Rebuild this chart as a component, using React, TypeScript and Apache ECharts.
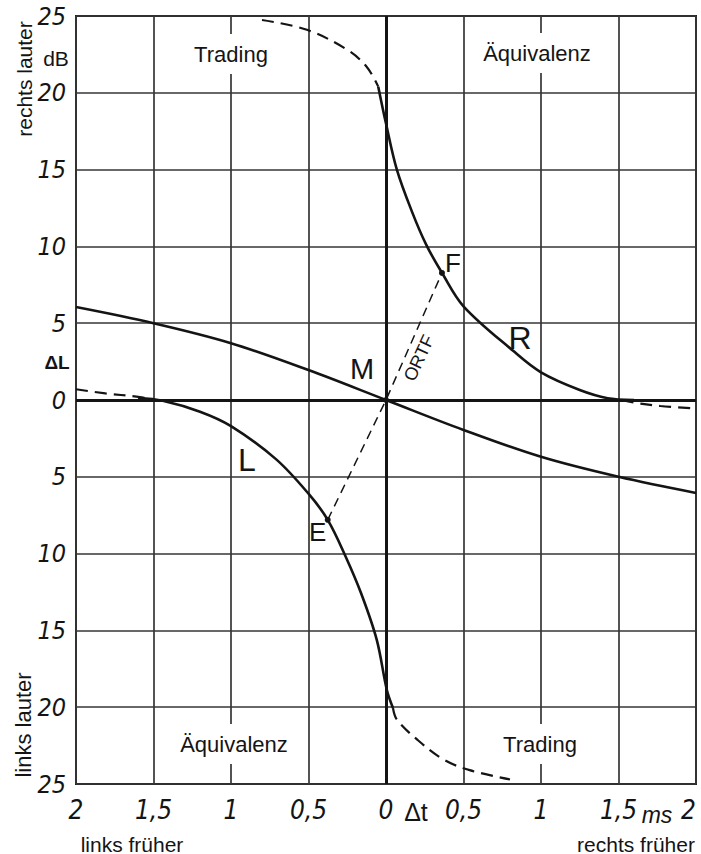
import React, { useEffect, useRef } from "react";
import * as echarts from "echarts";

// Axis ticks (ms, dB)
const xTicks = [-2, -1.5, -1, -0.5, 0, 0.5, 1, 1.5, 2];
const yTicks = [-25, -20, -15, -10, -5, 0, 5, 10, 15, 20, 25];

// Curve M (middle)
const mCurve = [
  [-2, 6.05], [-1.5, 5.0], [-1, 3.7], [-0.5, 1.95], [0, 0],
  [0.5, -1.95], [1, -3.7], [1.5, -5.0], [2, -6.05],
];

// Curve R
const rSolid = [
  [-0.05, 20.4], [0, 18.0], [0.07, 15.0], [0.17, 12.2], [0.26, 10.1],
  [0.36, 8.3], [0.5, 6.1], [0.82, 3.2], [1.0, 1.8], [1.25, 0.65],
  [1.43, 0.12], [1.6, 0],
];
const rDashTop = [
  [-0.8, 24.74], [-0.51, 24.1], [-0.25, 22.8], [-0.125, 21.7], [-0.05, 20.4],
];
const rDashRight = [[1.52, 0], [1.6, -0.17], [1.77, -0.39], [1.98, -0.54]];

// Curve L
const lDashLeft = [[-2, 0.7], [-1.81, 0.43], [-1.61, 0.22], [-1.52, 0.08]];
const lSolid = [
  [-1.6, 0.15], [-1.44, -0.05], [-1.2, -0.76], [-1.0, -1.7], [-0.71, -3.85],
  [-0.5, -6.1], [-0.376, -7.8], [-0.26, -10.2], [-0.16, -12.6], [-0.06, -15.6],
  [0.006, -18.9], [0.045, -20.05],
];
const lDashBottom = [
  [0.045, -20.05], [0.07, -20.8], [0.2, -22.1], [0.37, -23.4], [0.54, -24.1],
  [0.8, -24.7],
];

// ORTF connection E - M - F
const ortfNames = ["E", "M", "F"];
const ortfPoints = [[-0.376, -7.8], [0, 0], [0.361, 8.27]];

const INK = "#141414";
const GRID = "#363636";
const NUM_FONT = "'Liberation Sans Narrow', 'DejaVu Sans Condensed', 'Liberation Sans', sans-serif";
const SANS = "'Liberation Sans', Arial, sans-serif";

const fmtNum = (v: number) => String(Math.abs(v)).replace(".", ",");

export default function App() {
  const ref = useRef<HTMLDivElement>(null);

  useEffect(() => {
    document.body.style.margin = "0";
    if (!ref.current) return;
    const chart = echarts.init(ref.current, undefined, { renderer: "svg" });

    const curveBase = {
      type: "line",
      showSymbol: false,
      symbol: "none",
      smooth: 0.35,
      silent: true,
      z: 5,
    };
    const solid = { color: INK, width: 2.6 };
    const dashed = { color: INK, width: 2.2, type: [12, 7] };

    const labelOffsets: Record<string, number[]> = {
      E: [-10, 12],
      M: [-24, -31],
      F: [11, -10],
    };
    const labelSizes: Record<string, number> = { E: 26, M: 29, F: 26 };

    const option: any = {
      animation: false,
      backgroundColor: "#fff",
      grid: {
        left: 76,
        right: 5,
        top: 16,
        bottom: 70,
        show: true,
        borderColor: "#222",
        borderWidth: 2,
        containLabel: false,
      },
      xAxis: {
        type: "value",
        min: xTicks[0],
        max: xTicks[xTicks.length - 1],
        interval: 0.5,
        axisLine: { show: false },
        axisTick: { show: false },
        splitLine: { show: true, lineStyle: { color: GRID, width: 1.7 } },
        axisLabel: {
          formatter: (v: number) => fmtNum(v),
          fontSize: 26,
          fontFamily: NUM_FONT,
          fontStyle: "italic",
          color: INK,
          margin: 13,
          alignMaxLabel: "right",
        },
      },
      yAxis: {
        type: "value",
        min: yTicks[0],
        max: yTicks[yTicks.length - 1],
        interval: 5,
        axisLine: { show: false },
        axisTick: { show: false },
        splitLine: { show: true, lineStyle: { color: GRID, width: 1.7 } },
        axisLabel: {
          formatter: (v: number) => fmtNum(v),
          fontSize: 25,
          fontFamily: NUM_FONT,
          fontStyle: "italic",
          color: INK,
          margin: 10,
        },
      },
      series: [
        {
          type: "line",
          data: [],
          silent: true,
          markLine: {
            silent: true,
            symbol: "none",
            label: { show: false },
            lineStyle: { color: INK, width: 3, type: "solid" },
            data: [{ xAxis: 0 }, { yAxis: 0 }],
          },
        },
        { ...curveBase, data: mCurve, lineStyle: solid },
        { ...curveBase, data: rSolid, lineStyle: solid },
        { ...curveBase, data: rDashTop, lineStyle: dashed },
        { ...curveBase, data: rDashRight, lineStyle: dashed },
        { ...curveBase, data: lSolid, lineStyle: solid },
        { ...curveBase, data: lDashLeft, lineStyle: dashed },
        { ...curveBase, data: lDashBottom, lineStyle: dashed },
        {
          type: "line",
          silent: true,
          z: 6,
          symbol: "circle",
          symbolSize: 6,
          showSymbol: true,
          itemStyle: { color: INK },
          lineStyle: { color: INK, width: 1.5, type: [9, 6] },
          data: ortfPoints.map((p, i) => ({
            value: p,
            label: {
              show: true,
              formatter: ortfNames[i],
              position: "inside",
              offset: labelOffsets[ortfNames[i]],
              fontSize: labelSizes[ortfNames[i]],
              fontFamily: SANS,
              color: INK,
            },
          })),
        },
      ],
      graphic: [
        // Region labels (white boxes interrupt grid lines)
        ...[
          { t: "Trading", x: 231, y: 54 },
          { t: "Äquivalenz", x: 537, y: 53 },
          { t: "Äquivalenz", x: 234, y: 744 },
          { t: "Trading", x: 540, y: 744 },
        ].map((d) => ({
          type: "text",
          x: d.x,
          y: d.y,
          z: 100,
          style: {
            text: d.t,
            font: `22px ${SANS}`,
            fill: INK,
            align: "center",
            verticalAlign: "middle",
            backgroundColor: "#fff",
            padding: [9, 4, 9, 4],
          },
        })),
        {
          type: "text",
          x: 24,
          y: 79,
          rotation: Math.PI / 2,
          z: 100,
          style: { text: "rechts lauter", font: `21px ${SANS}`, fill: INK, align: "center", verticalAlign: "middle" },
        },
        {
          type: "text",
          x: 23,
          y: 725,
          rotation: Math.PI / 2,
          z: 100,
          style: { text: "links lauter", font: `22px ${SANS}`, fill: INK, align: "center", verticalAlign: "middle" },
        },
        {
          type: "text",
          x: 56,
          y: 58,
          z: 100,
          style: { text: "dB", font: `21px ${SANS}`, fill: INK, align: "center", verticalAlign: "middle" },
        },
        {
          type: "text",
          x: 57,
          y: 362,
          z: 100,
          style: { text: "ΔL", font: `bold 19px ${SANS}`, fill: INK, align: "center", verticalAlign: "middle" },
        },
        {
          type: "text",
          x: 416,
          y: 812,
          z: 100,
          style: { text: "Δt", font: `25px ${SANS}`, fill: INK, align: "center", verticalAlign: "middle" },
        },
        {
          type: "text",
          x: 657,
          y: 815,
          z: 100,
          style: { text: "ms", font: `italic 23px ${SANS}`, fill: INK, align: "center", verticalAlign: "middle" },
        },
        {
          type: "text",
          x: 132,
          y: 844,
          z: 100,
          style: { text: "links früher", font: `21px ${SANS}`, fill: INK, align: "center", verticalAlign: "middle" },
        },
        {
          type: "text",
          x: 636,
          y: 844,
          z: 100,
          style: { text: "rechts früher", font: `21px ${SANS}`, fill: INK, align: "center", verticalAlign: "middle" },
        },
        {
          type: "text",
          x: 419,
          y: 358,
          rotation: (65 * Math.PI) / 180,
          z: 100,
          style: { text: "ORTF", font: `18px ${SANS}`, fill: INK, align: "center", verticalAlign: "middle" },
        },
        {
          type: "text",
          x: 520,
          y: 338,
          z: 100,
          style: { text: "R", font: `32px ${SANS}`, fill: INK, align: "center", verticalAlign: "middle" },
        },
        {
          type: "text",
          x: 247,
          y: 460,
          z: 100,
          style: { text: "L", font: `32px ${SANS}`, fill: INK, align: "center", verticalAlign: "middle" },
        },
      ],
    };

    chart.setOption(option);
    return () => chart.dispose();
  }, []);

  return <div ref={ref} style={{ width: 701, height: 854 }} />;
}
